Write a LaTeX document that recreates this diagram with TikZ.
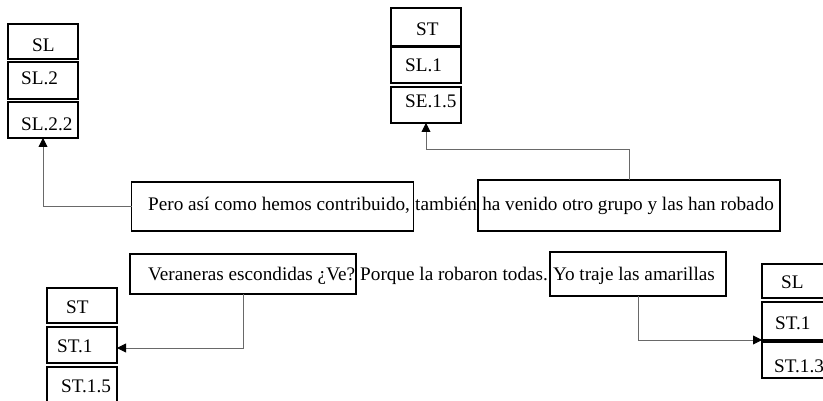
\documentclass[tikz,border=0pt]{standalone}
\usepackage{fontspec}
\setmainfont{Liberation Serif}
\usetikzlibrary{arrows.meta}
\definecolor{linegray}{RGB}{105,105,105}
\tikzset{
  box/.style={draw=black, line width=1.5pt, inner sep=0pt, outer sep=0pt, anchor=north west},
  lbl/.style={inner sep=0pt, anchor=base west, font=\fontsize{19.2}{23}\selectfont},
  seg/.style={inner sep=0pt, anchor=base west, font=\fontsize{19.2}{23}\selectfont},
  conn/.style={draw=linegray, line width=0.9pt, -{Triangle[length=9pt,width=9pt,color=black]}},
}
\newcommand\mkbox[5]{\node[box, minimum width=#3pt, minimum height=#4pt] (#5) at (#1,#2) {};}
\begin{document}
\begin{tikzpicture}[x=1pt,y=-1pt]
\useasboundingbox (0,0) rectangle (823,401);
\clip (0,0) rectangle (823,401);
% top-left stack
\mkbox{8}{24}{70}{35}{tlA}
\mkbox{8}{62}{70}{37}{tlB}
\mkbox{8}{102}{70}{36}{tlC}
\node[lbl] (tlAt) at (32,52) {SL};
\node[lbl] (tlBt) at (21,85) {SL.2};
\node[lbl] (tlCt) at (21,131) {SL.2.2};
% top-middle stack
\mkbox{391}{8}{70}{38}{tmA}
\mkbox{391}{47}{70}{36}{tmB}
\mkbox{391}{87}{70}{36}{tmC}
\node[lbl] (tmAt) at (416,36) {ST};
\node[lbl] (tmBt) at (405,72) {SL.1};
\node[lbl] (tmCt) at (405,108) {SE.1.5};
% bottom-left stack
\mkbox{47}{288}{70}{35}{blA}
\mkbox{47}{327}{70}{36}{blB}
\mkbox{47}{367}{70}{45}{blC}
\node[lbl] (blAt) at (66,313) {ST};
\node[lbl] (blBt) at (57,352) {ST.1};
\node[lbl] (blCt) at (61,392) {ST.1.5};
% right stack
\mkbox{762}{264}{80}{34}{rA}
\mkbox{762}{302}{80}{38}{rB}
\mkbox{762}{342}{80}{36}{rC}
\node[lbl] (rAt) at (781,288) {SL};
\node[lbl] (rBt) at (775,330) {ST.1};
\node[lbl] (rCt) at (774,372) {ST.1.3};
% row 1 boxes and text
\mkbox{131.5}{182}{282}{49}{b1}
\mkbox{478}{180}{302}{51}{b2}
\node[seg] (s1) at (148,211) {Pero así como hemos contribuido,};
\node[seg, xshift=4.8pt] (s2) at (s1.base east) {también};
\node[seg, xshift=4.8pt] (s3) at (s2.base east) {ha venido otro grupo y las han robado};
% row 2 boxes and text
\mkbox{130}{254}{226}{40}{b3}
\mkbox{550}{252}{176}{44}{b4}
\node[seg] (u1) at (148,280) {Veraneras escondidas ¿Ve?};
\node[seg, xshift=4.8pt] (u2) at (u1.base east) {Porque la robaron todas.};
\node[seg, xshift=4.8pt] (u3) at (u2.base east) {Yo traje las amarillas};
% connectors
\draw[conn] (b1.west) -| (tlC.south);
\draw[conn] (b2.north) -- ++(0,-31) -| (tmC.south);
\draw[conn] (b3.south) |- ([yshift=-3pt]blB.east);
\draw[conn] (b4.south) |- (rB.south west);
\end{tikzpicture}
\end{document}
